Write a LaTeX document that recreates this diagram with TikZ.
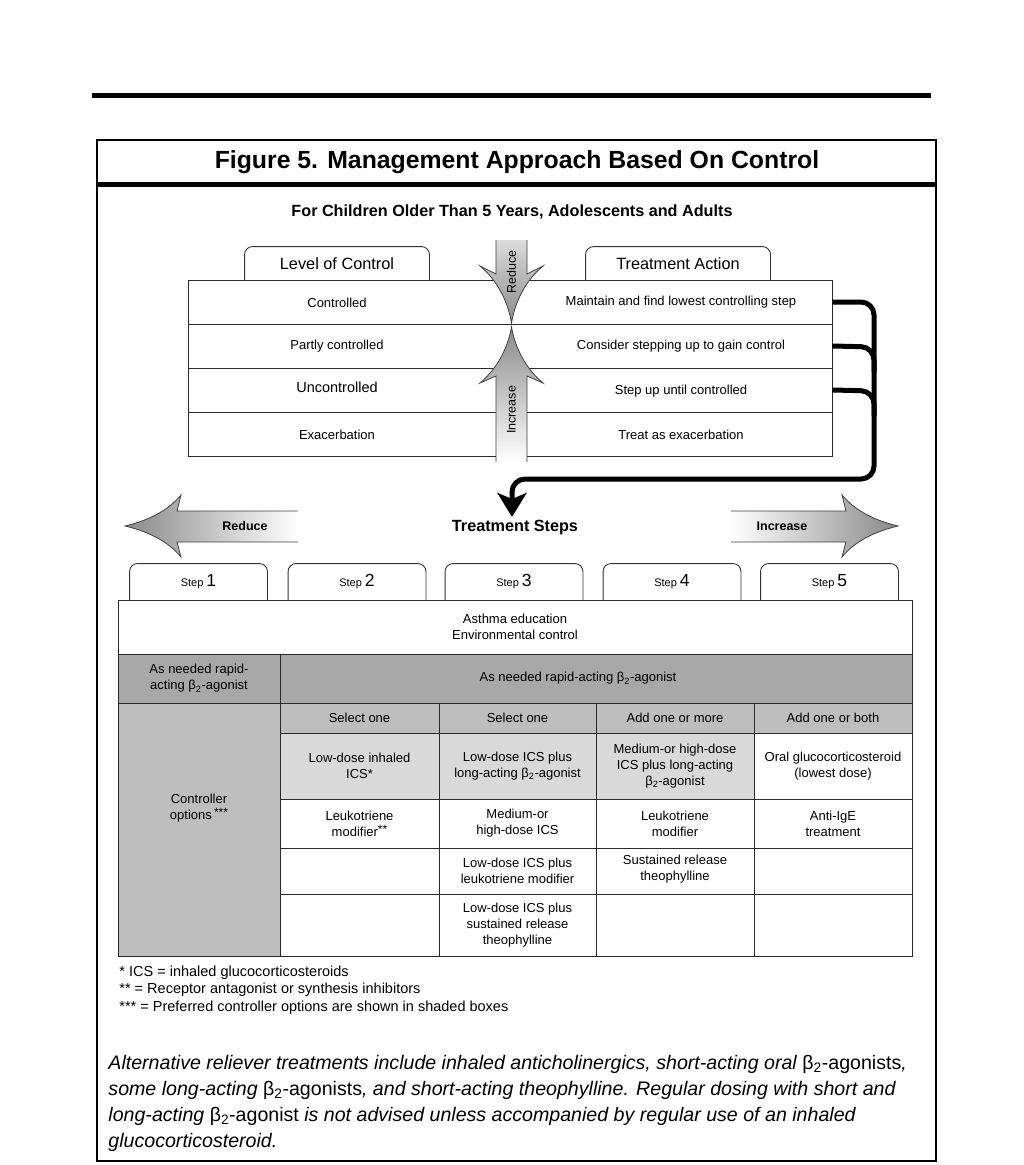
\documentclass[tikz,border=0pt]{standalone}
\usepackage{fontspec}
\setmainfont{Liberation Sans}
\usetikzlibrary{positioning, arrows.meta, calc}
\usepackage{xcolor}
\definecolor{relgray}{HTML}{A8A8A8}
\definecolor{optgray}{HTML}{BEBEBE}
\definecolor{prefgray}{HTML}{D9D9D9}
\definecolor{arrdark}{HTML}{8A8A8A}
\definecolor{arrlight}{HTML}{DCDCDC}
\definecolor{gridline}{HTML}{2A2A2A}

\newcommand\cellfont{\fontsize{13}{16}\selectfont}
\newcommand\betaII{β\textsubscript{2}}
\newcommand\starsup[1]{{\fontsize{12}{13}\selectfont\raisebox{3pt}{#1}}}

\tikzset{
  rowbox/.style={draw=gridline, fill=white, minimum width=644pt, minimum height=44pt, inner sep=0pt},
  tabtext/.style={inner sep=0pt, font=\fontsize{16.3}{19}\selectfont},
  tabline/.style={draw=black!80, rounded corners=8pt},
  lvl/.style={font=\cellfont, inner sep=1pt},
  cell/.style={draw=gridline, align=center, font=\cellfont, inner sep=0pt},
  bracket/.style={line width=5pt, rounded corners=13pt},
  grayarrow/.style={draw=black!75, line width=0.8pt},
}

\begin{document}
\begin{tikzpicture}[x=1pt, y=-1pt, line width=0.9pt]
\useasboundingbox (0,0) rectangle (1024,1165);

% page rule, frame and title
\draw[line width=5pt] (92,95) -- (931,95);
\draw[line width=1.6pt] (97,140) rectangle (936,1161);
\node[font=\bfseries\fontsize{24.8}{28}\selectfont] (title) at (517,162)
  {Figure 5. Management Approach Based On Control};
\draw[line width=5pt] (97,184) -- (936,184);
\node[font=\bfseries\fontsize{16.2}{19}\selectfont] (sub) at (512,212)
  {For Children Older Than 5 Years, Adolescents and Adults};

% level of control / treatment action
\node[tabtext, minimum width=184pt, minimum height=33pt] (loc) at (337,263.5) {Level of Control};
\draw[tabline] (loc.south west) |- (loc.north) -| (loc.south east);
\node[tabtext, minimum width=184pt, minimum height=33pt] (act) at (678,263.5) {Treatment Action};
\draw[tabline] (act.south west) |- (act.north) -| (act.south east);

\foreach \i/\y in {1/302,2/346,3/390,4/434}
  \node[rowbox] (r\i) at (510,\y) {};

\node[lvl] (lc1) at (337,302.5) {Controlled};
\node[lvl] (lc2) at (337,346.5) {Partly controlled};
\node[lvl, font=\fontsize{14.5}{17}\selectfont] (lc3) at (337,387.5) {Uncontrolled};
\node[lvl] (lc4) at (337,434.5) {Exacerbation};
\node[lvl] (ta1) at (681,302.5) {Maintain and find lowest controlling step};
\node[lvl] (ta2) at (681,346.5) {Consider stepping up to gain control};
\node[lvl] (ta3) at (681,391.5) {Step up until controlled};
\node[lvl] (ta4) at (681,434.5) {Treat as exacerbation};

% reduce / increase arrows between the columns
\shadedraw[grayarrow, top color=arrlight, bottom color=arrdark]
  (496,240) -- (496,274) -- (480,266) .. controls (498,281) and (508,302) .. (511.5,323)
  .. controls (515,302) and (525,281) .. (543,266) -- (527,274) -- (527,240);
\shadedraw[grayarrow, top color=arrdark, bottom color=white]
  (496,462) -- (496,376) -- (480,383) .. controls (498,368) and (508,347) .. (511.5,327)
  .. controls (515,347) and (525,368) .. (543,383) -- (527,376) -- (527,462);
\node[rotate=90, font=\fontsize{12.5}{14}\selectfont] (redv) at (511.5,272) {Reduce};
\node[rotate=90, font=\fontsize{12.5}{14}\selectfont] (incv) at (511.5,410) {Increase};

% treatment steps
\node[font=\bfseries\fontsize{16.2}{19}\selectfont] (tsteps) at (515,527.5) {Treatment Steps};
\coordinate (brkend) at (512,517);
\draw[bracket, -{Stealth[length=24pt, width=29pt, inset=6pt]}]
  (r1.east) -- (874,302) -- (874,479) -- (512,479) -- (brkend);
\draw[bracket] (r2.east) -- (874,347) -- (874,372);
\draw[bracket] (r3.east) -- (874,391) -- (874,416);

\shadedraw[grayarrow, left color=arrdark, right color=white]
  (298,511) -- (177,511) -- (181,495) .. controls (167,512) and (146,521) .. (125,526)
  .. controls (146,531) and (167,540) .. (181,557) -- (177,542) -- (298,542);
\shadedraw[grayarrow, left color=white, right color=arrdark]
  (731,511) -- (846,511) -- (842,495) .. controls (856,512) and (877,521) .. (898,526)
  .. controls (877,531) and (856,540) .. (842,557) -- (846,542) -- (731,542);
\node[font=\bfseries\fontsize{12.5}{15}\selectfont] (redh) at (245,526.5) {Reduce};
\node[font=\bfseries\fontsize{12.5}{15}\selectfont] (inch) at (782,526.5) {Increase};

\foreach \n/\x in {1/198.5,2/357,3/514,4/672,5/829.5} {
  \node[inner sep=0pt, minimum width=137pt, minimum height=36pt] (step\n) at (\x,582)
    {\raisebox{-4pt}{\fontsize{11}{13}\selectfont Step~\fontsize{17.5}{19}\selectfont\n}};
  \draw[tabline] (step\n.south west) |- (step\n.north) -| (step\n.south east);
}

% steps table
\node[cell, fill=white, minimum width=794pt, minimum height=54pt] (edu) at (515,627)
  {Asthma education\\Environmental control};
\node[cell, fill=relgray, minimum width=162pt, minimum height=49pt] (relA) at (199,678.5)
  {As needed rapid-\\acting \betaII-agonist};
\node[cell, fill=relgray, minimum width=632pt, minimum height=49pt] (relB) at (596,678.5) {};
\node[lvl] (reltext) at (578,678.5) {As needed rapid-acting \betaII-agonist};
\node[cell, fill=optgray, minimum width=162pt, minimum height=253pt] (ctrl) at (199,829.5) {};
\node[lvl, align=center] (ctrltext) at (199,808) {Controller\\options\,\starsup{***}};

% header row
\foreach \c/\x/\w/\t in {1/359.5/159/Select one, 2/517.5/157/Select one,
                         3/675/158/Add one or more, 4/833/158/Add one or both}
  \node[cell, fill=optgray, minimum width=\w pt, minimum height=30pt] (h\c) at (\x,718) {\t};

% option rows
\node[cell, fill=prefgray, minimum width=159pt, minimum height=66pt] (a1) at (359.5,766)
  {Low-dose inhaled\\ICS*};
\node[cell, fill=prefgray, minimum width=157pt, minimum height=66pt] (a2) at (517.5,766)
  {Low-dose ICS plus\\long-acting \betaII-agonist};
\node[cell, fill=prefgray, minimum width=158pt, minimum height=66pt] (a3) at (675,766)
  {Medium-or high-dose\\ICS plus long-acting\\\betaII-agonist};
\node[cell, fill=white, minimum width=158pt, minimum height=66pt] (a4) at (833,766)
  {Oral glucocorticosteroid\\(lowest dose)};

\node[cell, minimum width=159pt, minimum height=49pt] (b1) at (359.5,823.5)
  {Leukotriene\\modifier\starsup{**}};
\node[cell, minimum width=157pt, minimum height=49pt] (b2) at (517.5,823.5)
  {Medium-or\\high-dose ICS};
\node[cell, minimum width=158pt, minimum height=49pt] (b3) at (675,823.5)
  {Leukotriene\\modifier};
\node[cell, minimum width=158pt, minimum height=49pt] (b4) at (833,823.5)
  {Anti-IgE\\treatment};

\node[cell, minimum width=159pt, minimum height=46pt] (c1) at (359.5,871) {};
\node[cell, minimum width=157pt, minimum height=46pt] (c2) at (517.5,871)
  {Low-dose ICS plus\\leukotriene modifier};
\node[cell, minimum width=158pt, minimum height=46pt] (c3) at (675,871) {};
\node[lvl, align=center] (c3text) at (675,869) {Sustained release\\theophylline};
\node[cell, minimum width=158pt, minimum height=46pt] (c4) at (833,871) {};

\node[cell, minimum width=159pt, minimum height=62pt] (d1) at (359.5,925) {};
\node[cell, minimum width=157pt, minimum height=62pt] (d2) at (517.5,925)
  {Low-dose ICS plus\\sustained release\\theophylline};
\node[cell, minimum width=158pt, minimum height=62pt] (d3) at (675,925) {};
\node[cell, minimum width=158pt, minimum height=62pt] (d4) at (833,925) {};

% notes
\node[anchor=west, align=left, inner sep=0pt, font=\fontsize{14.5}{17.5}\selectfont] (notes) at (119,990)
  {* ICS = inhaled glucocorticosteroids\\
   ** = Receptor antagonist or synthesis inhibitors\\
   *** = Preferred controller options are shown in shaded boxes};
\node[anchor=west, align=left, inner sep=0pt, font=\itshape\fontsize{19.6}{26}\selectfont] (alt) at (108,1103)
  {Alternative reliever treatments include inhaled anticholinergics, short-acting oral {\upshape\betaII-agonists},\\
   some long-acting {\upshape\betaII-agonists}, and short-acting theophylline. Regular dosing with short and\\
   long-acting {\upshape\betaII-agonist} is not advised unless accompanied by regular use of an inhaled\\
   glucocorticosteroid.};
\end{tikzpicture}
\end{document}
